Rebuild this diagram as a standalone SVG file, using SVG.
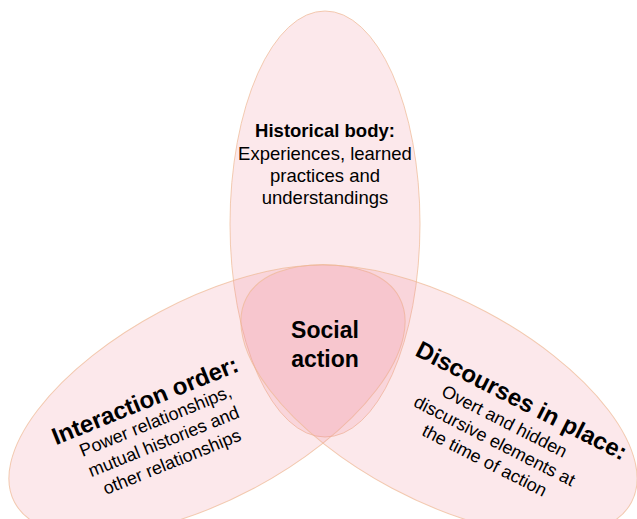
<svg xmlns="http://www.w3.org/2000/svg" width="637" height="519" viewBox="0 0 637 519">
<style>
.lobe{fill:#f08c9a;fill-opacity:0.2;stroke:#eeb893;stroke-opacity:0.7;stroke-width:1}
.t{font-family:"Liberation Sans",Arial,sans-serif;fill:#000;text-anchor:middle}
.b{font-weight:bold}
</style>
<rect width="637" height="519" fill="#fff"/>
<g id="historical-body">
<ellipse class="lobe" cx="325" cy="224" rx="95" ry="213"/>
<text class="t b" x="325" y="137" font-size="18.5">Historical body:</text>
<text class="t" x="325" y="160" font-size="18.5">Experiences, learned</text>
<text class="t" x="325" y="182" font-size="18.5">practices and</text>
<text class="t" x="325" y="204" font-size="18.5">understandings</text>
</g>
<g id="interaction-order">
<ellipse class="lobe" transform="translate(207 400) rotate(-28)" cx="0" cy="0" rx="218" ry="100"/>
<g transform="translate(148 408) rotate(-22)">
<text class="t b" x="0" y="0" font-size="24">Interaction order:</text>
<text class="t" x="2" y="21" font-size="18">Power relationships,</text>
<text class="t" x="2" y="43" font-size="18">mutual histories and</text>
<text class="t" x="2" y="65" font-size="18">other relationships</text>
</g>
</g>
<g id="discourses-in-place">
<ellipse class="lobe" transform="translate(439 400) rotate(28)" cx="0" cy="0" rx="218" ry="100"/>
<g transform="translate(518 408) rotate(27)">
<text class="t b" x="0" y="0" font-size="24">Discourses in place:</text>
<text class="t" x="-6" y="24" font-size="18">Overt and hidden</text>
<text class="t" x="-6" y="46" font-size="18">discursive elements at</text>
<text class="t" x="-6" y="68" font-size="18">the time of action</text>
</g>
</g>
<g id="social-action">
<text class="t b" x="325" y="338" font-size="23">Social</text>
<text class="t b" x="325" y="367" font-size="23">action</text>
</g>
<g id="connectors"></g>
</svg>
